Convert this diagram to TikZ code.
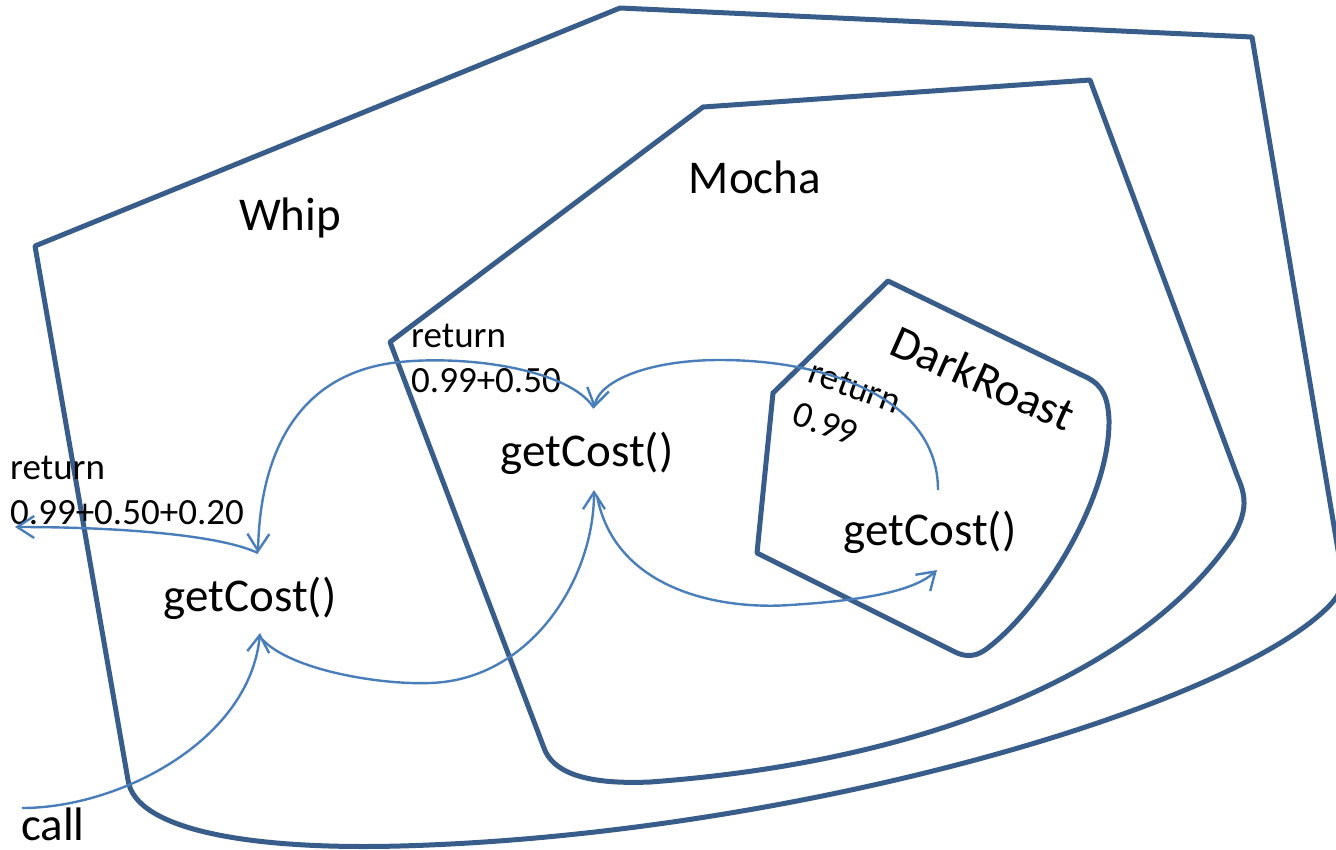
\documentclass[tikz,border=0pt]{standalone}
\usepackage{fontspec}
\setmainfont{Carlito}
\usetikzlibrary{arrows.meta}
\definecolor{border}{RGB}{56,93,138}
\definecolor{arrowc}{RGB}{74,126,187}
\begin{document}
\begin{tikzpicture}[x=1pt,y=-1pt,
  shapeline/.style={draw=border,line width=5pt,line join=round},
  flow/.style={draw=arrowc,line width=2.4pt,-{Straight Barb[length=17pt,width=22pt]}},
  big/.style={font=\fontsize{47}{56}\selectfont,inner sep=0pt},
  small/.style={font=\fontsize{37}{45}\selectfont,inner sep=0pt,align=left},
]
\useasboundingbox (0,0) rectangle (1336,849);
\clip (0,0) rectangle (1336,849);

% Whip
\path[shapeline] (35,246) -- (620,8) -- (1252,37) -- (1340,562)
  .. controls (1344,585) and (1342,592) .. (1330,605)
  .. controls (1235,705) and (800,835) .. (400,846)
  .. controls (250,850) and (135,830) .. (128,780) -- cycle;
% Mocha
\path[shapeline] (390,342) -- (703,107) -- (1090,80) -- (1238,478)
  .. controls (1248,500) and (1245,515) .. (1233,537)
  .. controls (1150,660) and (950,760) .. (650,782)
  .. controls (580,785) and (552,770) .. (544,748) -- cycle;
% DarkRoast
\path[shapeline] (773,393) -- (888,281) -- (1088,378)
  .. controls (1103,386) and (1108,398) .. (1109,420)
  .. controls (1110,500) and (1040,610) .. (985,650)
  .. controls (975,657) and (965,657) .. (955,652) -- (757,553) -- cycle;

% texts
\node[big,anchor=base] (whip) at (290,230) {Whip};
\node[big,anchor=base] (mocha) at (755,193) {Mocha};
\node[big,rotate=-24] (dark) at (983,378) {DarkRoast};
\node[big,anchor=base] (wc) at (250,611) {getCost()};
\node[big,anchor=base] (mc) at (587,466) {getCost()};
\node[big,anchor=base] (dc) at (930,545) {getCost()};
\node[big,anchor=base west] (call) at (21,840) {call};
\node[small,anchor=north west] (wret) at (10,456) {return\\0.99+0.50+0.20};
\node[small,anchor=north west] (mret) at (411,324) {return\\0.99+0.50};
\node[small,rotate=-20] (dret) at (847,408) {return\\0.99};

% connector ends
\coordinate (cstart) at (22,808);
\coordinate (wbot) at (260,633);
\coordinate (wbot2) at (262,639);
\coordinate (wtop) at (258,553);
\coordinate (mbot) at (594,490);
\coordinate (mbot2) at (597,496);
\coordinate (mtop) at (594,408);
\coordinate (dbot) at (937,570);
\coordinate (dtop) at (938,490);
\coordinate (wend) at (15,527);

\draw[flow] (cstart) .. controls (120,808) and (250,740) .. (wbot);
\draw[flow] (wbot2) .. controls (290,670) and (380,685) .. (430,683)
  .. controls (530,680) and (594,580) .. (mbot);
\draw[flow] (mbot2) .. controls (615,590) and (720,610) .. (790,605)
  .. controls (870,600) and (915,590) .. (dbot);
\draw[flow] (dtop) .. controls (938,400) and (830,360) .. (720,360)
  .. controls (650,360) and (600,380) .. (mtop);
\draw[flow] (mtop) .. controls (570,370) and (470,355) .. (400,362)
  .. controls (300,372) and (260,450) .. (wtop);
\draw[flow] (wtop) .. controls (220,535) and (120,527) .. (wend);
\end{tikzpicture}
\end{document}
